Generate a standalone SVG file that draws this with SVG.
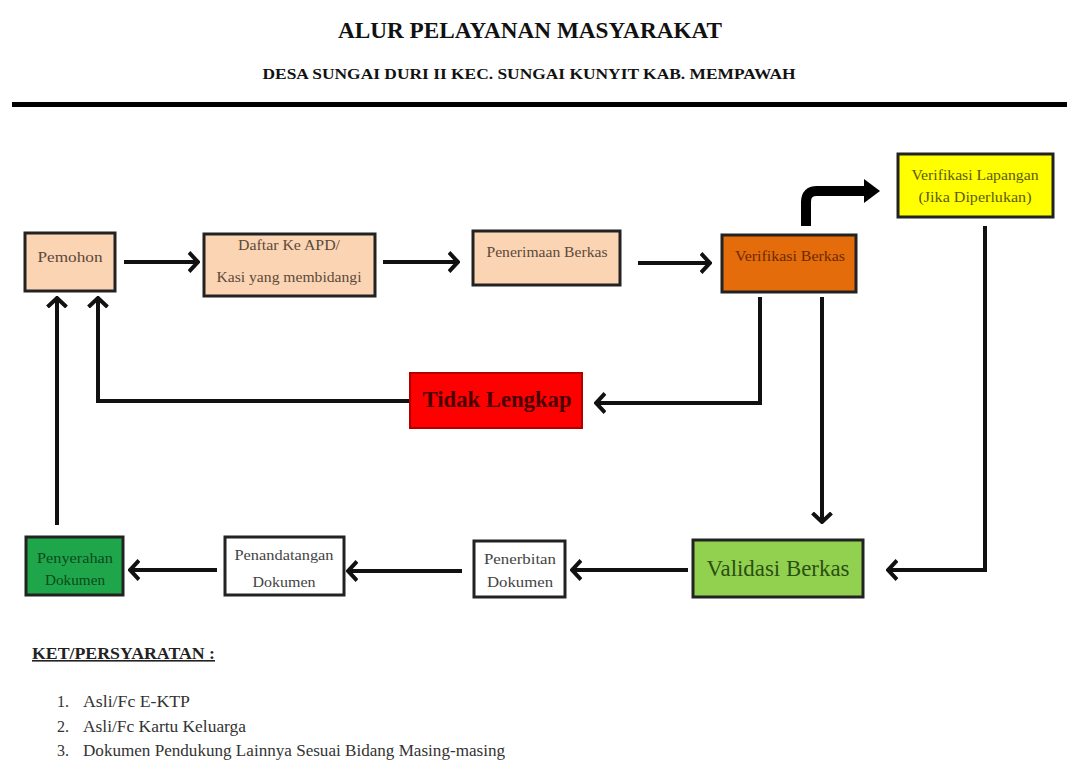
<svg xmlns="http://www.w3.org/2000/svg" width="1067" height="760" viewBox="0 0 1067 760">
<style>
text{font-family:"Liberation Serif","Times New Roman",serif}
.box{stroke:#222;stroke-width:3}
.t{font-family:"Liberation Serif","Times New Roman",serif;font-size:14px;text-anchor:middle}
.ln{fill:none;stroke:#111;stroke-width:4;marker-end:url(#chev)}
.li{font-family:"Liberation Serif","Times New Roman",serif;font-size:16px;fill:#333}
</style>
<defs>
<marker id="chev" viewBox="0 0 12 22" markerWidth="12" markerHeight="22" refX="9" refY="11" orient="auto" markerUnits="userSpaceOnUse">
<path d="M1,1.5 L10,11 L1,20.5" fill="none" stroke="#111" stroke-width="4" stroke-linejoin="miter"/>
</marker>
</defs>
<rect width="1067" height="760" fill="#fff"/>
<g id="header">
<text x="530" y="38" font-size="24" font-weight="bold" text-anchor="middle" textLength="384" lengthAdjust="spacingAndGlyphs" fill="#111">ALUR PELAYANAN MASYARAKAT</text>
<text x="529" y="79" font-size="15" font-weight="bold" text-anchor="middle" textLength="533" lengthAdjust="spacingAndGlyphs" fill="#111">DESA SUNGAI DURI II KEC. SUNGAI KUNYIT KAB. MEMPAWAH</text>
<rect x="12" y="102" width="1055" height="5" fill="#000"/>
</g>
<g id="connectors">
<path class="ln" d="M124,262 H197"/>
<path class="ln" d="M383,262 H457"/>
<path class="ln" d="M638,263 H709"/>
<path class="ln" d="M760,297 V403 H597"/>
<path class="ln" d="M822,297 V521"/>
<path class="ln" d="M985,226 V570 H889"/>
<path class="ln" d="M688,570 H573"/>
<path class="ln" d="M462,571 H349"/>
<path class="ln" d="M217,570 H131"/>
<path class="ln" d="M57,525 V299"/>
<path class="ln" d="M410,401 H98 V299"/>
<path d="M806,226 V202 Q806,191 817,191 H866" fill="none" stroke="#000" stroke-width="10"/>
<polygon points="864,179 880,191 864,203" fill="#000"/>
</g>
<g id="pemohon">
<rect class="box" x="25" y="233" width="90" height="58" fill="#fbd4b4"/>
<text class="t" x="70" y="262" textLength="65" lengthAdjust="spacingAndGlyphs" fill="#5b4a3a">Pemohon</text>
</g>
<g id="daftar">
<rect class="box" x="204" y="234" width="171" height="62" fill="#fbd4b4"/>
<text class="t" x="289" y="250" textLength="102" lengthAdjust="spacingAndGlyphs" fill="#5b4a3a">Daftar Ke APD/</text>
<text class="t" x="289" y="282" textLength="145" lengthAdjust="spacingAndGlyphs" fill="#5b4a3a">Kasi yang membidangi</text>
</g>
<g id="penerimaan">
<rect class="box" x="473" y="231" width="147" height="54" fill="#fbd4b4"/>
<text class="t" x="547" y="257" textLength="121" lengthAdjust="spacingAndGlyphs" fill="#5b4a3a">Penerimaan Berkas</text>
</g>
<g id="verifikasi-berkas">
<rect class="box" x="722" y="235" width="134" height="57" fill="#e46c0a"/>
<text class="t" x="790" y="261" textLength="110" lengthAdjust="spacingAndGlyphs" fill="#6b2a00">Verifikasi Berkas</text>
</g>
<g id="verifikasi-lapangan">
<rect class="box" x="898" y="154" width="155" height="63" fill="#ffff00"/>
<text class="t" x="975" y="180" textLength="127" lengthAdjust="spacingAndGlyphs" fill="#5c5c10">Verifikasi Lapangan</text>
<text class="t" x="975" y="202" textLength="113" lengthAdjust="spacingAndGlyphs" fill="#5c5c10">(Jika Diperlukan)</text>
</g>
<g id="tidak-lengkap">
<rect x="410" y="373" width="172" height="55" fill="#ff0000" stroke="#b00000" stroke-width="2"/>
<text x="497" y="407" font-size="23" font-weight="bold" text-anchor="middle" textLength="149" lengthAdjust="spacingAndGlyphs" fill="#4a0000">Tidak Lengkap</text>
</g>
<g id="validasi">
<rect class="box" x="693" y="540" width="170" height="57" fill="#92d050"/>
<text x="778" y="576" font-size="24" text-anchor="middle" textLength="143" lengthAdjust="spacingAndGlyphs" fill="#2a5010">Validasi Berkas</text>
</g>
<g id="penerbitan">
<rect class="box" x="474" y="541" width="91" height="56" fill="#fff"/>
<text class="t" x="520" y="564" textLength="72" lengthAdjust="spacingAndGlyphs" fill="#444">Penerbitan</text>
<text class="t" x="520" y="587" textLength="66" lengthAdjust="spacingAndGlyphs" fill="#444">Dokumen</text>
</g>
<g id="penandatangan">
<rect class="box" x="225" y="537" width="119" height="58" fill="#fff"/>
<text class="t" x="284" y="560" textLength="99" lengthAdjust="spacingAndGlyphs" fill="#444">Penandatangan</text>
<text class="t" x="284" y="587" textLength="63" lengthAdjust="spacingAndGlyphs" fill="#444">Dokumen</text>
</g>
<g id="penyerahan">
<rect class="box" x="26" y="537" width="97" height="58" fill="#1fa64a"/>
<text class="t" x="75" y="563" textLength="76" lengthAdjust="spacingAndGlyphs" fill="#0b4a1c">Penyerahan</text>
<text class="t" x="75" y="585" textLength="60" lengthAdjust="spacingAndGlyphs" fill="#0b4a1c">Dokumen</text>
</g>
<g id="legend">
<text x="32" y="659" font-size="16" font-weight="bold" text-decoration="underline" textLength="183" lengthAdjust="spacingAndGlyphs" fill="#222">KET/PERSYARATAN :</text>
<text class="li" x="57" y="707">1.</text>
<text class="li" x="83" y="707" textLength="107" lengthAdjust="spacingAndGlyphs">Asli/Fc E-KTP</text>
<text class="li" x="57" y="732">2.</text>
<text class="li" x="83" y="732" textLength="163" lengthAdjust="spacingAndGlyphs">Asli/Fc Kartu Keluarga</text>
<text class="li" x="57" y="756">3.</text>
<text class="li" x="83" y="756" textLength="422" lengthAdjust="spacingAndGlyphs">Dokumen Pendukung Lainnya Sesuai Bidang Masing-masing</text>
</g>
</svg>
